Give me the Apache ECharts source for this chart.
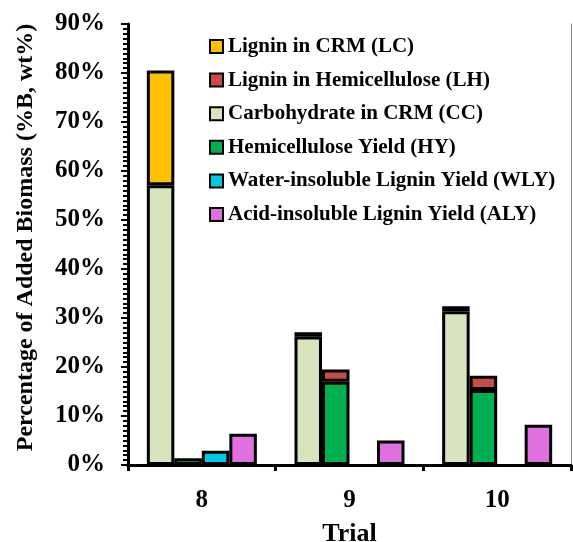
<!DOCTYPE html>
<html>
<head>
<meta charset="utf-8">
<script src="https://cdn.jsdelivr.net/npm/echarts@6/dist/echarts.min.js"></script>
<style>
html,body{margin:0;padding:0;background:#fff;}
#c{width:573px;height:542px;}
</style>
</head>
<body>
<div id="c"></div>
<script>
const categories = ['8', '9', '10'];
const CC  = [57.1, 26.2, 31.4];
const LC  = [23.4, 0.9, 1.0];
const HY  = [1.4, 17.0, 15.3];
const LH  = [0, 2.5, 2.9];
const WLY = [2.9, 0, 0];
const ALY = [6.4, 5.0, 8.2];
const yTicks = [0, 10, 20, 30, 40, 50, 60, 70, 80, 90];

const FONT = "'Liberation Serif', 'Times New Roman', serif";
const chart = echarts.init(document.getElementById('c'), null, {renderer: 'canvas'});

function bar(name, data, stack, color) {
  return {
    name: name, type: 'bar', stack: stack,
    data: data.map(function (v) { return v === 0 ? null : v; }),
    barWidth: 27.5, barGap: '0%',
    itemStyle: {color: color, borderColor: '#000', borderWidth: 3},
    emphasis: {disabled: true}
  };
}

const option = {
  animation: false,
  backgroundColor: '#fff',
  textStyle: {fontFamily: FONT},
  grid: {left: 128, right: 2, top: 24, bottom: 77, containLabel: false, outerBoundsMode: 'none'},
  legend: {
    orient: 'vertical', left: 204, top: 31,
    itemWidth: 13, itemHeight: 13, itemGap: 12.6,
    icon: 'rect',
    data: ['Lignin in CRM (LC)', 'Lignin in Hemicellulose (LH)', 'Carbohydrate in CRM (CC)',
           'Hemicellulose Yield (HY)', 'Water-insoluble Lignin Yield (WLY)', 'Acid-insoluble Lignin Yield (ALY)'],
    textStyle: {fontFamily: FONT, fontWeight: 'bold', fontSize: 21, color: '#000', lineHeight: 21}
  },
  xAxis: [{
    type: 'category', data: categories, position: 'bottom',
    axisLine: {lineStyle: {color: '#000', width: 3}},
    axisTick: {show: true, length: 6, lineStyle: {color: '#000', width: 3}},
    axisLabel: {fontFamily: FONT, fontWeight: 'bold', fontSize: 25, color: '#000', margin: 23},
    name: 'Trial', nameLocation: 'middle', nameGap: 56,
    nameTextStyle: {fontFamily: FONT, fontWeight: 'bold', fontSize: 26, color: '#000'}
  }, {
    type: 'category', data: categories, position: 'top',
    axisLine: {lineStyle: {color: '#000', width: 3}},
    axisTick: {show: false}, axisLabel: {show: false}
  }],
  yAxis: [{
    type: 'value', min: 0, max: 90, interval: 10,
    axisLine: {show: true, lineStyle: {color: '#000', width: 3}},
    axisTick: {show: true, length: 7, lineStyle: {color: '#000', width: 2}},
    minorTick: {show: true, splitNumber: 10, length: 5, lineStyle: {color: '#000', width: 2}},
    splitLine: {show: false},
    axisLabel: {
      fontFamily: FONT, fontWeight: 'bold', fontSize: 25, color: '#000', margin: 23,
      formatter: function (v) { return yTicks.indexOf(v) >= 0 ? v + '%' : ''; }
    },
    name: 'Percentage of Added Biomass (%B, wt%)', nameLocation: 'middle', nameGap: 90,
    nameTextStyle: {fontFamily: FONT, fontWeight: 'bold', fontSize: 24, color: '#000', padding: [0, 0, 0, 14]}
  }, {
    type: 'value', min: 0, max: 90, interval: 10, position: 'right',
    axisLine: {show: true, lineStyle: {color: '#888', width: 1}},
    axisTick: {show: false}, axisLabel: {show: false}, splitLine: {show: false}
  }],
  series: [
    bar('Carbohydrate in CRM (CC)', CC, 'a', '#D7E4BD'),
    bar('Lignin in CRM (LC)', LC, 'a', '#FFC000'),
    bar('Hemicellulose Yield (HY)', HY, 'b', '#00B050'),
    bar('Lignin in Hemicellulose (LH)', LH, 'b', '#C84B4B'),
    bar('Water-insoluble Lignin Yield (WLY)', WLY, 'c', '#00C8E6'),
    bar('Acid-insoluble Lignin Yield (ALY)', ALY, 'd', '#E070E0')
  ]
};
chart.setOption(option);
</script>
</body>
</html>
